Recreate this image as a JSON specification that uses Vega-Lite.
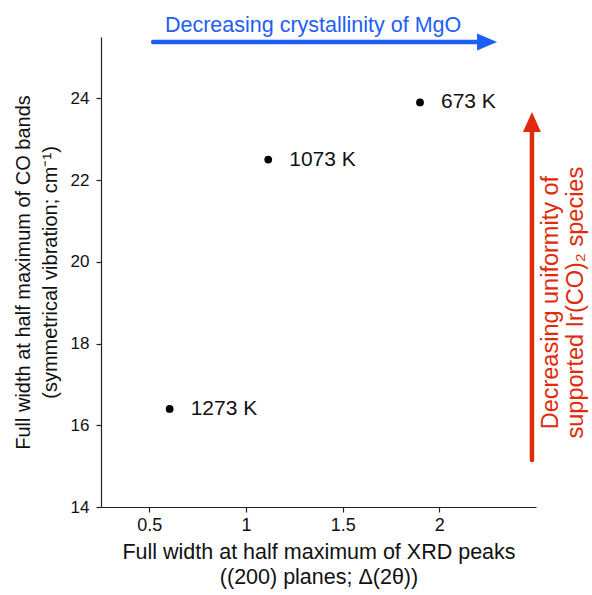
{
  "$schema": "https://vega.github.io/schema/vega-lite/v6.json",
  "width": 435,
  "height": 470,
  "autosize": {"type": "none"},
  "padding": {"left": 101, "top": 37, "right": 56, "bottom": 88},
  "background": "white",
  "config": {
    "view": {"stroke": null},
    "font": "Liberation Sans",
    "axis": {
      "grid": false,
      "domainColor": "#222222",
      "tickColor": "#222222",
      "labelColor": "#111111",
      "titleColor": "#111111",
      "labelFont": "Liberation Sans",
      "titleFont": "Liberation Sans",
      "labelFontSize": 17,
      "titleFontSize": 20,
      "titleFontWeight": "normal",
      "tickSize": 5,
      "domainWidth": 1.2,
      "tickWidth": 1.2
    }
  },
  "layer": [
    {
      "data": {"values": [
        {"x": 1.9, "y": 23.9, "label": "673 K"},
        {"x": 1.115, "y": 22.5, "label": "1073 K"},
        {"x": 0.605, "y": 16.4, "label": "1273 K"}
      ]},
      "mark": {"type": "circle", "size": 60, "color": "#000000", "opacity": 1},
      "encoding": {
        "x": {"field": "x", "type": "quantitative",
          "scale": {"domain": [0.25, 2.5], "nice": false, "zero": false},
          "axis": {"values": [0.5, 1, 1.5, 2], "format": "~g", "labelFontSize": 18, "labelPadding": 4, "titlePadding": 7, "titleFontSize": 21.5, "titleLineHeight": 25,
            "title": ["Full width at half maximum of XRD peaks", "((200) planes; Δ(2θ))"]}},
        "y": {"field": "y", "type": "quantitative",
          "scale": {"domain": [14, 25.5], "nice": false, "zero": false},
          "axis": {"values": [14, 16, 18, 20, 22, 24], "labelPadding": 7, "titlePadding": 10, "titleLineHeight": 27,
            "title": ["Full width at half maximum of CO bands", "(symmetrical vibration; cm⁻¹)"]}}
      }
    },
    {
      "data": {"values": [
        {"x": 1.9, "y": 23.9, "label": "673 K"},
        {"x": 1.115, "y": 22.5, "label": "1073 K"},
        {"x": 0.605, "y": 16.4, "label": "1273 K"}
      ]},
      "mark": {"type": "text", "align": "left", "baseline": "middle", "dx": 21, "fontSize": 21, "color": "#111111"},
      "encoding": {
        "x": {"field": "x", "type": "quantitative"},
        "y": {"field": "y", "type": "quantitative"},
        "text": {"field": "label"}
      }
    },
    {
      "data": {"values": [
        {"arrow": "blue", "x": 0.52, "y": 25.38, "x2": 2.2, "y2": 25.38},
        {"arrow": "red", "x": 2.479, "y": 15.15, "x2": 2.479, "y2": 23.22}
      ]},
      "mark": {"type": "rule", "strokeWidth": 4.5, "strokeCap": "round"},
      "encoding": {
        "x": {"field": "x", "type": "quantitative"},
        "y": {"field": "y", "type": "quantitative"},
        "x2": {"field": "x2"},
        "y2": {"field": "y2"},
        "color": {"field": "arrow", "type": "nominal",
          "scale": {"domain": ["blue", "red"], "range": ["#1d5ef6", "#e02b0b"]}, "legend": null}
      }
    },
    {
      "data": {"values": [
        {"arrow": "blue", "x": 2.247, "y": 25.38},
        {"arrow": "red", "x": 2.479, "y": 23.42}
      ]},
      "mark": {"type": "point", "filled": true, "size": 400, "opacity": 1, "strokeWidth": 0},
      "encoding": {
        "x": {"field": "x", "type": "quantitative"},
        "y": {"field": "y", "type": "quantitative"},
        "color": {"field": "arrow", "type": "nominal", "legend": null},
        "shape": {"field": "arrow", "type": "nominal",
          "scale": {"domain": ["blue", "red"], "range": ["M-1,-0.85L1,0L-1,0.85Z", "M-0.9,1L0,-1L0.9,1Z"]}, "legend": null}
      }
    },
    {
      "data": {"values": [
        {"x": 1.347, "y": 25.62, "text": "Decreasing crystallinity of MgO"}
      ]},
      "mark": {"type": "text", "align": "center", "baseline": "alphabetic", "fontSize": 21.5, "color": "#1d5ef6"},
      "encoding": {
        "x": {"field": "x", "type": "quantitative"},
        "y": {"field": "y", "type": "quantitative"},
        "text": {"field": "text"}
      }
    },
    {
      "data": {"values": [
        {"x": 2.578, "y": 19.0, "text": "Decreasing uniformity of\nsupported Ir(CO)₂ species"}
      ]},
      "mark": {"type": "text", "align": "center", "baseline": "middle", "angle": 270, "lineBreak": "\n", "lineHeight": 25, "fontSize": 23.5, "color": "#e02b0b"},
      "encoding": {
        "x": {"field": "x", "type": "quantitative"},
        "y": {"field": "y", "type": "quantitative"},
        "text": {"field": "text"}
      }
    }
  ]
}
